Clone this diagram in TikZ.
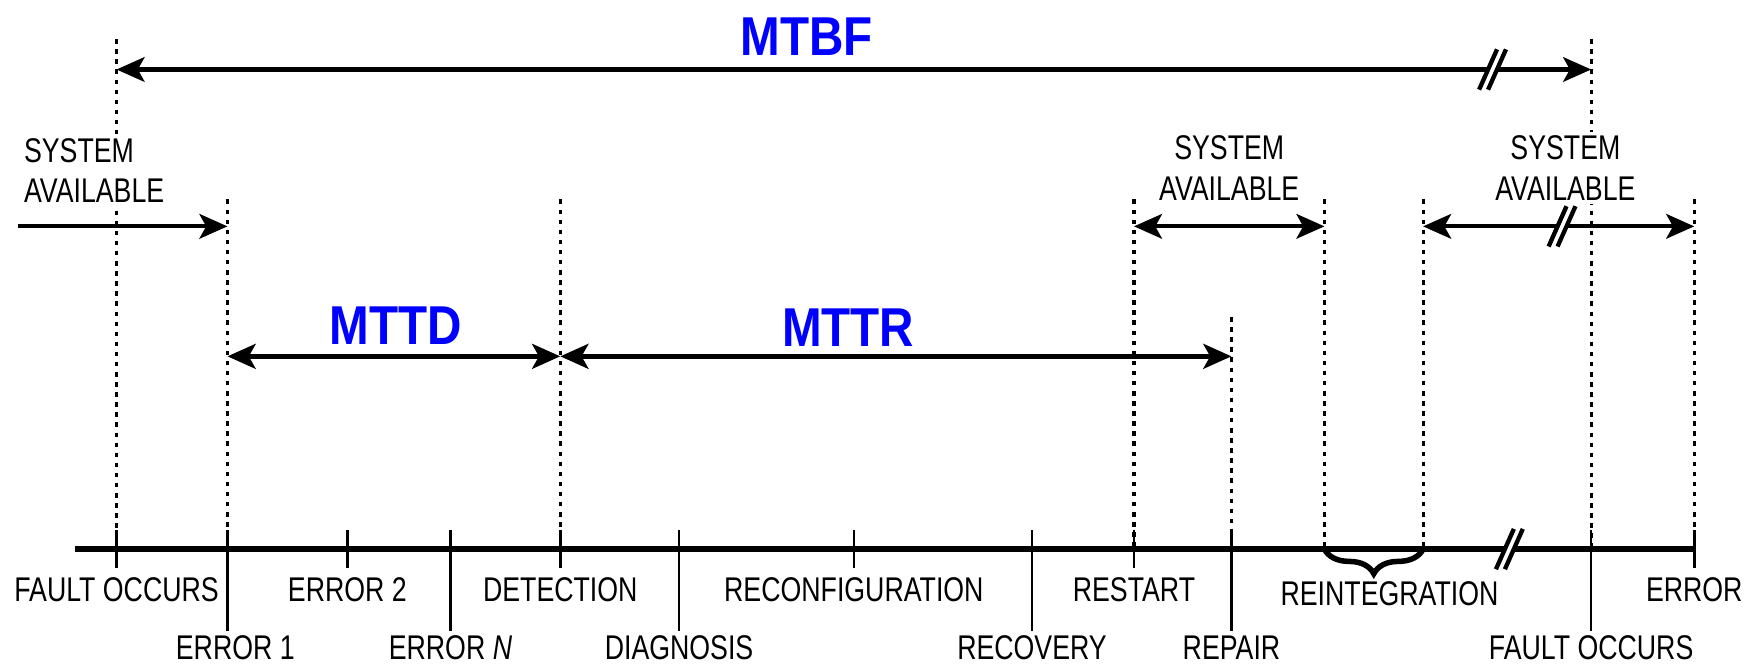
\documentclass[tikz,border=0pt]{standalone}
\usepackage{fontspec}
\setmainfont{Liberation Sans}[FakeStretch=0.78]
\newfontfamily\metricfont{Liberation Sans}[FakeStretch=0.87]
\usetikzlibrary{arrows.meta,decorations.pathreplacing}
\definecolor{metricblue}{RGB}{0,0,255}

\begin{document}
\begin{tikzpicture}[x=0.1mm,y=-0.1mm,>={Stealth[length=2.5mm,width=2.2mm,inset=0.6mm]},
  every node/.style={font=\fontsize{8.7}{10.2}\selectfont,inner sep=1pt},
  axisline/.style={line width=1.35pt},
  tickmark/.style={line width=0.65pt},
  guide/.style={line width=0.8pt,dash pattern=on 0.4mm off 0.5mm},
  span/.style={<->,line width=1.05pt},
  metric/.style={font=\metricfont\fontsize{13.9}{16}\selectfont\bfseries,text=metricblue},
  avail/.style={align=center,fill=white},
  brk/.pic={\fill[white] (-10,18) -- (6,-18) -- (14,-18) -- (-2,18) -- cycle;
    \draw[line width=1.1pt] (-10,18) -- (6,-18) (-2,18) -- (14,-18);}]
\useasboundingbox (0,0) rectangle (1568,596);

% rows
\coordinate (hi) at (0,35);
\coordinate (mid) at (0,178);
\coordinate (lo) at (0,283);
\coordinate (ymtbf) at (0,62);
\coordinate (yav) at (0,202);
\coordinate (ymt) at (0,318);
\coordinate (r1) at (0,526);
\coordinate (r2) at (0,578);

% events on the time line
\coordinate (t0) at (67,490);
\coordinate (tin) at (16,202);
\foreach \n/\x in {fo/104,ea/203,eb/310,en/402,det/500,diag/606,conf/762,rec/921,
  rst/1012,rep/1099,ria/1182,rib/1270,fo2/1420,err/1512}
  \coordinate (\n) at (\x,490);

% dotted guides
\foreach \n in {fo,fo2} \draw[guide] (\n |- hi) -- (\n);
\foreach \n in {ea,det,rst,ria,rib,err} \draw[guide] (\n |- mid) -- (\n);
\draw[guide] (rep |- lo) -- (rep);

\draw[axisline] (t0) -- (err);
\pic at (1345,490) {brk};
\foreach \n in {fo,eb,det,conf,rst,err} \draw[tickmark] (\n) ++(0,-17) -- ++(0,34);
\foreach \n in {ea,en,diag,rec,rep,fo2} \draw[tickmark] (\n) ++(0,-17) -- ++(0,90);
\draw[line width=1.4pt,decorate,decoration={brace,mirror,amplitude=2.2mm}] (ria) -- (rib);

% spans
\draw[span] (fo |- ymtbf) -- (fo2 |- ymtbf);
\pic at (1330,62) {brk};
\draw[->,line width=1.05pt] (tin) -- (ea |- yav);
\draw[span] (rst |- yav) -- (ria |- yav);
\draw[span] (rib |- yav) -- (err |- yav);
\pic at (1392,202) {brk};
\draw[span,line width=1.4pt] (ea |- ymt) -- (det |- ymt);
\draw[span,line width=1.4pt] (det |- ymt) -- (rep |- ymt);

\node[metric] (mtbf) at (720,33) {MTBF};
\node[metric] (mttd) at (353,291) {MTTD};
\node[metric] (mttr) at (757,292) {MTTR};

\node[avail,align=left] (av1) at (84,152) {SYSTEM\\AVAILABLE};
\node[avail] (av2) at (1097,150) {SYSTEM\\AVAILABLE};
\node[avail] (av3) at (1397,150) {SYSTEM\\AVAILABLE};

% labels
\node (lfo) at (fo |- r1) {FAULT OCCURS};
\node (leb) at (eb |- r1) {ERROR 2};
\node (ldet) at (det |- r1) {DETECTION};
\node (lconf) at (conf |- r1) {RECONFIGURATION};
\node (lrst) at (rst |- r1) {RESTART};
\node (lri) at (1240,530) {REINTEGRATION};
\node (lerr) at (err |- r1) {ERROR};
\node[xshift=0.7mm] (lea) at (ea |- r2) {ERROR 1};
\node (len) at (en |- r2) {ERROR \textit{N}};
\node (ldiag) at (diag |- r2) {DIAGNOSIS};
\node (lrec) at (rec |- r2) {RECOVERY};
\node (lrep) at (rep |- r2) {REPAIR};
\node (lfo2) at (fo2 |- r2) {FAULT OCCURS};
\end{tikzpicture}
\end{document}
